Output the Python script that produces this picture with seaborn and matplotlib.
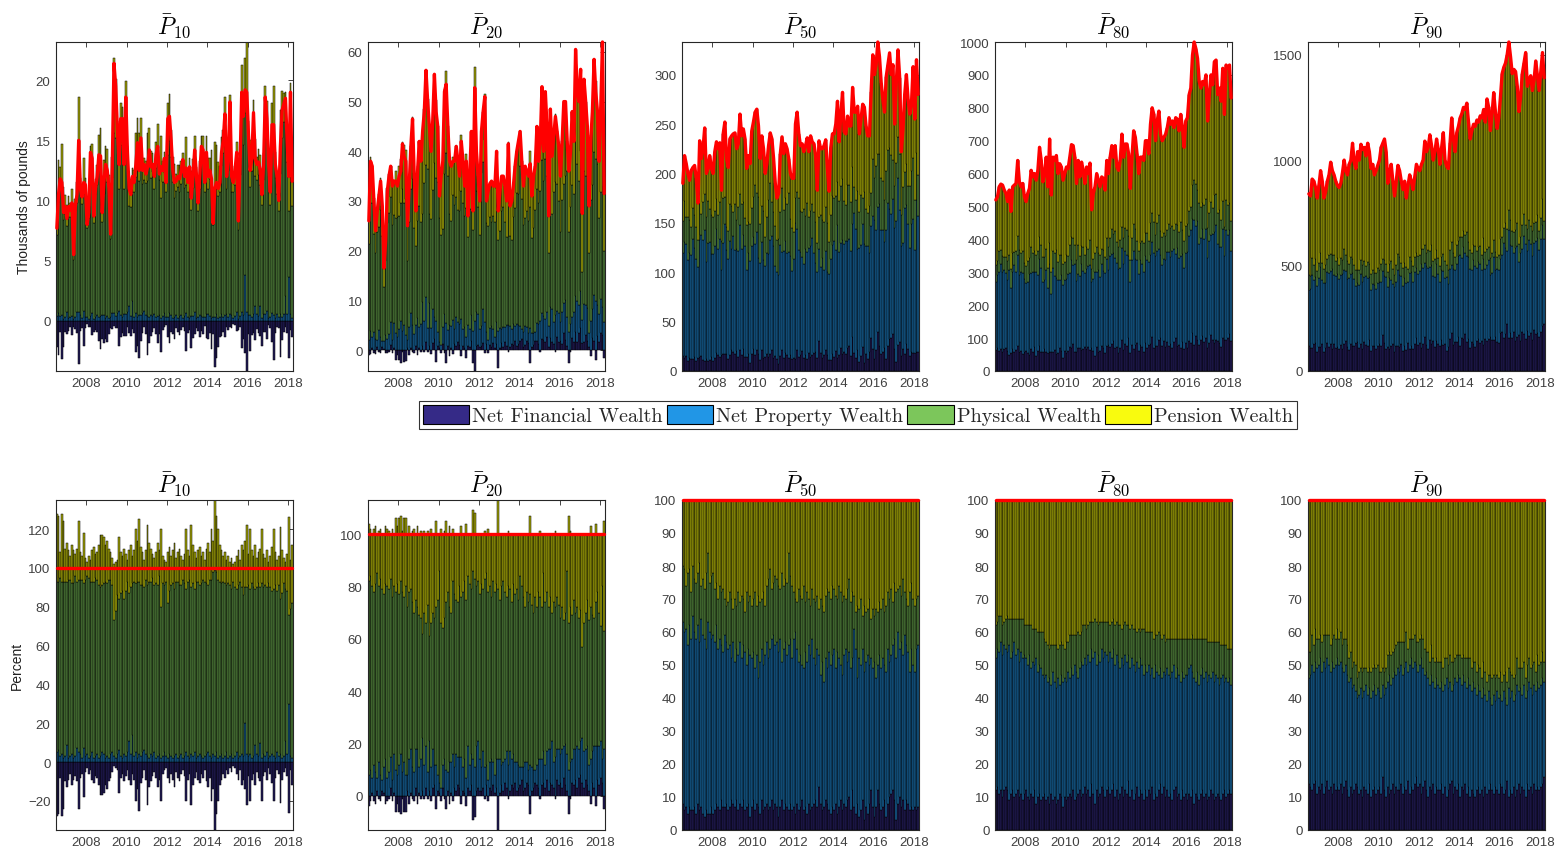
import numpy as np
import matplotlib
matplotlib.use("Agg")
import matplotlib.pyplot as plt
from matplotlib.patches import Patch
from matplotlib.colors import to_rgb
from matplotlib.ticker import MultipleLocator, FixedLocator
import seaborn as sns

# ---------------- data (monthly, Jul 2006 - Mar 2018) ----------------
start_year = 2006.5  # July 2006
components = ["Net Financial Wealth", "Net Property Wealth", "Physical Wealth", "Pension Wealth"]
titles = [r"$\bar{P}_{10}$", r"$\bar{P}_{20}$", r"$\bar{P}_{50}$", r"$\bar{P}_{80}$", r"$\bar{P}_{90}$"]

# total net wealth, thousands of pounds (red line)
tot10 = [7.7, 10.5, 11.8, 11.5, 9.0, 9.5,
         8.5, 9.5, 9.2, 9.8, 5.5, 9.5, 10.5, 15.0, 11.0, 10.3, 11.5, 11.3,
         8.0, 9.0, 14.0, 13.5, 8.7, 11.0, 12.0, 13.8, 13.7, 9.0, 11.5, 13.0,
         12.5, 11.0, 7.2, 13.0, 21.4, 19.5, 16.0, 13.0, 16.8, 16.8, 13.0, 18.6,
         14.0, 11.0, 10.5, 12.0, 11.5, 13.0, 14.8, 12.5, 15.2, 12.5, 13.0, 12.2,
         12.8, 14.2, 12.8, 13.0, 12.0, 13.8, 14.5, 12.2, 12.8, 12.5, 13.5, 11.5,
         16.8, 17.0, 15.0, 12.5, 11.5, 11.6, 12.0, 11.8, 12.5, 13.4, 12.0, 12.7,
         11.5, 12.8, 10.2, 12.0, 14.2, 12.2, 9.8, 12.0, 14.5, 14.2, 11.5, 14.0,
         12.0, 12.5, 11.8, 8.1, 11.0, 11.5, 11.0, 11.5, 14.0, 15.0, 17.2, 12.0,
         13.5, 18.2, 12.0, 11.5, 12.5, 14.0, 8.3, 13.0, 19.0, 17.0, 19.2, 19.0,
         15.5, 12.5, 13.5, 17.3, 13.5, 13.0, 13.2, 12.5, 10.5, 13.0, 18.6, 16.8,
         13.0, 10.7, 16.3, 16.3, 13.0, 12.0, 10.0, 14.5, 17.5, 18.0, 18.5, 15.0,
         12.0, 19.0, 11.6]
tot20 = [26, 38, 37, 30, 24, 28,
         31, 34, 29, 16.5, 22, 32, 35, 37, 33, 34, 34, 33,
         35, 36, 41.5, 39, 38, 25, 33, 41, 46.5, 35, 28, 36,
         42, 38, 44, 48, 56.3, 50, 45, 40, 46, 55.5, 48, 45,
         31, 35, 38, 52, 53.5, 45, 38, 37, 38, 38, 41, 38,
         35, 42, 38, 33, 38, 27, 35, 44, 28, 52.8, 40, 35,
         30, 44, 48, 51, 30, 32, 33.5, 34, 33, 33, 40, 28,
         32, 35, 35, 33, 30, 41.5, 29, 30, 33, 37, 40, 42,
         44, 38, 33, 37, 36, 35, 37.5, 31, 35, 37, 45, 38,
         42, 53, 40, 52, 45, 27, 48.5, 39, 43, 47, 44, 41,
         35, 42, 50, 50, 42, 36, 40, 48, 42, 60.5, 52, 50,
         56.5, 27.5, 54.5, 50, 45, 29, 42, 48, 58.5, 52, 48, 38,
         49, 62, 31.5]
tot50 = [190, 218, 210, 200, 193, 203,
         206, 208, 195, 170, 233, 215, 225, 246, 200, 205, 218, 205,
         200, 222, 232, 225, 231, 183, 240, 252, 215, 206, 235, 238,
         240, 241, 225, 230, 260, 238, 245, 235, 205, 218, 210, 243,
         252, 262, 265, 248, 215, 238, 225, 200, 210, 228, 241, 235,
         215, 190, 175, 180, 220, 237, 220, 230, 225, 215, 200, 195,
         195, 250, 262, 240, 228, 230, 222, 228, 236, 222, 238, 232,
         230, 218, 183, 233, 225, 225, 228, 234, 205, 182, 226, 240,
         240, 250, 273, 232, 260, 282, 242, 240, 258, 248, 248, 287,
         262, 262, 268, 240, 255, 270, 267, 248, 238, 238, 282, 320,
         300, 310, 333, 318, 292, 275, 262, 298, 310, 322, 300, 310,
         250, 292, 325, 297, 222, 245, 280, 300, 275, 260, 270, 308,
         255, 315, 280]
tot80 = [520, 530, 560, 568, 565, 550,
         540, 515, 550, 485, 560, 565, 570, 640, 575, 560, 570, 530,
         515, 540, 555, 610, 590, 600, 580, 610, 680, 640, 575, 600,
         650, 560, 705, 535, 650, 640, 655, 600, 630, 620, 580, 600,
         620, 615, 650, 688, 685, 650, 570, 640, 590, 635, 610, 570,
         620, 600, 632, 490, 540, 560, 600, 580, 560, 590, 585, 550,
         640, 600, 650, 685, 650, 685, 620, 610, 640, 720, 650, 690,
         690, 660, 555, 650, 730, 710, 660, 600, 650, 650, 640, 700,
         700, 660, 750, 800, 780, 700, 760, 790, 720, 700, 710, 720,
         740, 770, 750, 760, 740, 770, 765, 730, 780, 740, 680, 760,
         770, 840, 860, 960, 1000, 980, 950, 880, 860, 880, 870, 900,
         760, 840, 900, 870, 940, 945, 840, 860, 820, 920, 780, 930,
         920, 930, 830]
tot90 = [840, 830, 910, 900, 870, 820,
         880, 950, 900, 820, 850, 900, 930, 990, 950, 930, 900, 880,
         870, 890, 940, 1000, 950, 930, 980, 1000, 1080, 990, 960, 1040,
         1000, 1075, 1050, 1060, 1020, 1080, 1040, 960, 980, 930, 950, 975,
         1000, 1060, 1080, 1100, 1040, 890, 940, 980, 900, 830, 900, 975,
         950, 900, 860, 900, 820, 880, 930, 900, 860, 920, 980, 960,
         950, 980, 1000, 1090, 1040, 1060, 1120, 1070, 1000, 1040, 1100, 1050,
         980, 1060, 1130, 1000, 970, 960, 1080, 1200, 1100, 1040, 1130, 1160,
         1200, 1220, 1250, 1240, 1270, 1180, 1100, 1140, 1170, 1160, 1190, 1180,
         1210, 1200, 1240, 1180, 1290, 1250, 1140, 1220, 1320, 1230, 1150, 1200,
         1300, 1410, 1440, 1460, 1500, 1560, 1490, 1410, 1430, 1420, 1350, 1230,
         1300, 1410, 1460, 1510, 1350, 1380, 1400, 1330, 1380, 1470, 1400, 1330,
         1420, 1510, 1390]

# component shares of total wealth, percent (pension = remainder to 100)
fin10 = [-28, -27, -8, -28, -24, -10,
         -13, -9, -6, -12, -9, -7, -10, -24, -8, -6, -18, -5,
         -3, -6, -4, -9, -11, -7, -8, -12, -17, -17, -16, -12,
         -14, -10, -8, -5, -2, -3, -4, -16, -8, -6, -10, -7,
         -4, -9, -12, -6, -9, -20, -14, -25, -11, -8, -4, -9,
         -22, -13, -10, -7, -5, -8, -13, -9, -20, -6, -4, -3,
         -8, -11, -6, -9, -13, -5, -8, -10, -6, -4, -7, -20,
         -9, -6, -22, -12, -8, -5, -9, -11, -6, -8, -4, -10,
         -13, -8, -20, -14, -35, -27, -20, -12, -9, -6, -8, -4,
         -6, -3, -5, -2, -3, -6, -9, -4, -12, -9, -14, -22,
         -7, -20, -9, -6, -12, -5, -8, -10, -20, -7, -5, -9,
         -3, -6, -11, -20, -8, -4, -6, -21, -9, -5, -3, -7,
         -26, -4, -12]
prop10 = [5, 6, 3, 4, 2, 3,
          9, 2, 3, 4, 2, 3, 7, 5, 4, 2, 7, 3,
          4, 2, 3, 5, 2, 3, 4, 2, 3, 5, 4, 2,
          3, 2, 4, 5, 3, 2, 4, 6, 3, 2, 4, 3,
          5, 11, 4, 14, 3, 5, 2, 4, 3, 5, 6, 4,
          3, 2, 4, 3, 5, 2, 3, 4, 2, 3, 5, 3,
          2, 4, 3, 2, 3, 4, 2, 3, 4, 2, 3, 5,
          3, 2, 4, 3, 5, 2, 3, 4, 3, 2, 3, 4,
          5, 3, 2, 4, 3, 5, 2, 3, 4, 2, 3, 5,
          2, 3, 4, 2, 3, 5, 2, 3, 4, 3, 20, 4,
          3, 4, 2, 3, 9, 4, 3, 10, 2, 4, 3, 5,
          2, 3, 4, 3, 2, 5, 3, 4, 2, 3, 11, 4,
          30, 3, 2]
phys10 = [88, 87, 92, 89, 91, 90,
          84, 92, 91, 88, 90, 93, 86, 89, 90, 92, 85, 91,
          92, 93, 90, 88, 91, 92, 90, 89, 87, 86, 88, 91,
          89, 92, 90, 86, 70, 76, 82, 78, 84, 86, 80, 85,
          88, 76, 86, 78, 90, 87, 91, 89, 88, 86, 84, 90,
          88, 91, 89, 92, 86, 90, 88, 92, 78, 89, 86, 90,
          80, 84, 88, 90, 86, 89, 91, 88, 87, 92, 89, 84,
          90, 92, 86, 89, 84, 91, 90, 87, 89, 92, 90, 88,
          86, 91, 92, 94, 96, 93, 92, 90, 88, 91, 89, 86,
          90, 88, 85, 91, 87, 84, 89, 90, 86, 83, 70, 86,
          88, 85, 90, 87, 80, 86, 89, 80, 90, 86, 88, 85,
          90, 87, 84, 86, 89, 83, 88, 80, 85, 89, 78, 84,
          46, 76, 80]

fin20 = [-4, -2, 1, -2, -3, 2,
         -1, -2, 2, 1, -3, -2, -1, 3, -2, 1, -6, -3,
         -6, -7, -1, -6, -6, 2, -3, 1, -1, -2, 3, -3,
         1, -1, 2, -1, 3, -1, 2, -2, 3, 4, -5, 2,
         1, -2, 3, -1, -5, 2, -3, 1, -2, 3, 2, 4,
         3, -3, 2, 1, -4, 3, 2, 4, -9, -8, 2, 3,
         2, 2, 3, -1, 4, -2, 3, 2, 4, 1, 3, -13,
         1, 4, 2, 5, 3, -1, 2, 4, 3, 5, 2, 3,
         4, 6, 2, 3, 5, 4, -7, 2, 3, 5, 4, 3,
         -1, 4, 5, 3, 6, 2, 5, 4, 3, -1, 6, 4,
         5, 3, 7, 4, 2, -7, -1, 5, 4, 6, 3, 7,
         8, 5, 3, 6, 4, 2, -3, 5, 3, -4, 6, 4,
         7, 5, -5]
prop20 = [8, 10, 6, 12, 9, 5,
          13, 8, 4, 10, 14, 7, 9, 12, 6, 15, 10, 8,
          12, 16, 9, 13, 8, 6, 14, 17, 11, 9, 15, 18,
          10, 14, 20, 12, 16, 9, 19, 11, 15, 8, 12, 6,
          4, 3, 9, 14, 10, 7, 13, 12, 16, 8, 14, 11,
          12, 15, 9, 13, 7, 16, 10, 12, 14, 11, 17, 18,
          12, 9, 14, 11, 8, 6, 10, 12, 9, 7, 11, 14,
          13, 8, 11, 9, 14, 12, 15, 10, 13, 8, 11, 9,
          7, 5, 9, 10, 8, 6, 12, 9, 7, 5, 8, 11,
          14, 10, 12, 9, 11, 16, 13, 17, 10, 15, 12, 14,
          11, 15, 12, 16, 14, 10, 13, 9, 14, 12, 16, 11,
          13, 17, 14, 12, 15, 10, 14, 12, 16, 19, 13, 15,
          14, 9, 18]
phys20 = [74, 74, 73, 66, 72, 78,
          67, 75, 73, 66, 67, 73, 70, 68, 70, 64, 68, 73,
          65, 66, 69, 63, 72, 64, 64, 61, 63, 61, 57, 54,
          58, 54, 40, 58, 47, 64, 40, 55, 52, 56, 60, 67,
          81, 63, 52, 54, 64, 69, 59, 57, 66, 66, 59, 59,
          65, 61, 67, 68, 68, 65, 69, 63, 72, 72, 61, 61,
          63, 70, 62, 72, 73, 72, 67, 62, 69, 70, 67, 65,
          61, 68, 69, 64, 59, 68, 62, 60, 65, 64, 66, 63,
          73, 69, 65, 59, 65, 64, 65, 62, 60, 66, 60, 64,
          62, 58, 68, 62, 61, 54, 58, 49, 61, 57, 58, 55,
          52, 54, 48, 50, 70, 56, 59, 55, 57, 52, 53, 50,
          50, 35, 49, 52, 56, 55, 58, 52, 49, 55, 59, 51,
          44, 66, 45]

fin50 = [8, 6, 7, 5, 7, 6,
         6, 7, 5, 8, 6, 7, 5, 4, 6, 5, 5, 7,
         5, 6, 8, 7, 6, 9, 7, 7, 8, 6, 7, 9,
         8, 7, 9, 6, 8, 7, 9, 6, 7, 8, 4, 7,
         9, 6, 8, 7, 5, 9, 6, 7, 8, 6, 7, 9,
         6, 8, 7, 4, 7, 9, 6, 8, 7, 6, 8, 6,
         7, 5, 8, 6, 7, 9, 6, 7, 5, 8, 6, 7,
         8, 9, 7, 13, 8, 6, 7, 9, 8, 6, 5, 7,
         6, 8, 5, 7, 9, 6, 8, 7, 9, 10, 6, 12,
         7, 5, 8, 4, 6, 9, 3, 7, 5, 8, 12, 7,
         4, 7, 12, 8, 6, 7, 9, 4, 8, 10, 11, 12,
         9, 3, 8, 10, 7, 9, 6, 9, 8, 6, 7, 6,
         7, 6, 7]
prop50 = [55, 54, 54, 51, 55, 52,
          59, 53, 53, 54, 51, 57, 54, 54, 49, 58, 55, 51,
          54, 51, 54, 48, 52, 47, 47, 52, 49, 49, 49, 43,
          49, 44, 46, 47, 49, 45, 47, 48, 43, 47, 49, 45,
          45, 43, 45, 39, 46, 46, 44, 46, 49, 46, 48, 49,
          53, 48, 50, 50, 51, 42, 49, 49, 46, 50, 50, 46,
          51, 55, 47, 45, 46, 41, 43, 47, 46, 48, 47, 51,
          44, 41, 48, 40, 39, 45, 38, 43, 41, 48, 45, 46,
          49, 41, 49, 45, 41, 41, 45, 48, 42, 44, 43, 40,
          54, 50, 38, 48, 44, 46, 45, 44, 48, 42, 40, 42,
          47, 39, 38, 45, 43, 45, 41, 44, 47, 41, 42, 44,
          49, 49, 52, 45, 50, 44, 53, 47, 46, 42, 48, 44,
          41, 49, 49]
phys50 = [17, 19, 13, 22, 17, 14,
          15, 16, 17, 16, 24, 10, 17, 15, 23, 21, 15, 19,
          19, 16, 13, 15, 16, 16, 19, 11, 11, 14, 16, 18,
          10, 19, 13, 19, 12, 19, 14, 12, 22, 14, 18, 16,
          16, 23, 15, 25, 18, 15, 22, 15, 17, 24, 24, 15,
          16, 21, 19, 20, 15, 27, 19, 19, 22, 28, 19, 22,
          14, 10, 14, 22, 18, 20, 25, 15, 21, 14, 15, 15,
          18, 19, 16, 14, 23, 17, 21, 19, 24, 18, 20, 21,
          18, 22, 16, 22, 22, 22, 18, 15, 22, 22, 20, 20,
          10, 11, 22, 15, 20, 10, 20, 15, 14, 20, 12, 18,
          14, 21, 16, 16, 18, 18, 16, 20, 17, 19, 20, 13,
          17, 20, 13, 19, 14, 23, 13, 14, 14, 24, 20, 20,
          20, 15, 15]

fin80 = [12, 13, 11, 12, 10, 12,
         13, 12, 9, 11, 12, 10, 11, 12, 10, 11, 9, 11,
         12, 10, 9, 11, 10, 12, 8, 10, 11, 9, 10, 11,
         9, 10, 8, 11, 9, 10, 8, 9, 11, 10, 7, 10,
         9, 10, 11, 10, 12, 9, 10, 11, 12, 10, 11, 13,
         11, 12, 10, 14, 11, 8, 12, 10, 11, 13, 12, 10,
         12, 13, 11, 12, 14, 10, 12, 9, 11, 13, 10, 12,
         11, 15, 10, 12, 9, 11, 13, 10, 12, 11, 9, 12,
         10, 12, 11, 13, 9, 11, 10, 12, 14, 11, 13, 10,
         12, 10, 11, 9, 12, 13, 10, 11, 9, 12, 10, 11,
         9, 11, 10, 12, 8, 11, 10, 9, 11, 12, 10, 11,
         9, 10, 12, 11, 9, 10, 11, 10, 9, 11, 12, 10,
         11, 12, 11]
prop80 = [40, 42, 43, 45, 43, 44,
          42, 42, 47, 41, 42, 47, 42, 43, 41, 43, 43, 42,
          40, 40, 44, 38, 41, 38, 44, 38, 39, 40, 37, 35,
          38, 35, 38, 33, 39, 35, 35, 37, 33, 37, 38, 36,
          36, 38, 35, 39, 35, 41, 38, 35, 37, 41, 39, 39,
          39, 41, 41, 41, 41, 46, 38, 43, 40, 42, 40, 44,
          41, 38, 43, 40, 41, 40, 41, 42, 38, 39, 40, 41,
          40, 38, 39, 40, 41, 37, 38, 39, 40, 39, 38, 38,
          38, 38, 36, 36, 37, 39, 38, 35, 35, 35, 35, 37,
          37, 37, 35, 39, 38, 33, 39, 36, 36, 36, 36, 36,
          38, 38, 40, 36, 38, 34, 38, 35, 36, 37, 36, 37,
          36, 37, 34, 37, 36, 37, 35, 34, 37, 36, 33, 36,
          34, 34, 33]
phys80 = [10, 8, 11, 8, 9, 7,
          9, 11, 8, 12, 10, 7, 11, 9, 13, 10, 12, 9,
          10, 12, 9, 13, 10, 11, 9, 12, 10, 11, 13, 12,
          10, 11, 9, 12, 8, 11, 13, 9, 12, 10, 11, 9,
          12, 9, 13, 10, 12, 9, 11, 14, 10, 9, 12, 10,
          11, 9, 12, 8, 11, 10, 13, 9, 12, 8, 11, 9,
          10, 12, 8, 11, 9, 12, 10, 11, 13, 9, 12, 10,
          11, 9, 12, 10, 11, 13, 9, 12, 8, 11, 14, 10,
          12, 10, 13, 11, 12, 9, 11, 13, 10, 12, 11, 10,
          9, 11, 12, 10, 8, 12, 9, 11, 13, 10, 12, 11,
          11, 9, 8, 11, 12, 13, 10, 14, 11, 9, 12, 10,
          12, 10, 11, 9, 12, 10, 11, 13, 10, 9, 11, 10,
          10, 9, 11]

fin90 = [14, 13, 12, 14, 15, 11,
         13, 12, 14, 11, 13, 15, 12, 13, 11, 14, 12, 13,
         12, 14, 11, 13, 15, 12, 10, 13, 11, 12, 14, 13,
         11, 12, 10, 13, 12, 11, 14, 10, 12, 13, 11, 12,
         13, 11, 16, 12, 10, 13, 11, 12, 14, 11, 13, 12,
         12, 14, 11, 13, 12, 15, 11, 13, 12, 14, 16, 13,
         14, 11, 13, 15, 12, 10, 13, 12, 14, 11, 13, 12,
         12, 14, 11, 13, 10, 12, 14, 15, 11, 13, 12, 14,
         10, 13, 12, 14, 11, 13, 10, 12, 11, 10, 12, 13,
         11, 12, 10, 13, 11, 12, 14, 12, 11, 13, 12, 11,
         14, 13, 11, 12, 15, 10, 12, 11, 13, 10, 12, 14,
         11, 13, 12, 10, 14, 12, 13, 11, 14, 12, 13, 12,
         13, 14, 16]
prop90 = [32, 34, 38, 34, 36, 38,
          37, 40, 34, 40, 36, 37, 38, 35, 40, 35, 38, 39,
          38, 37, 38, 35, 35, 35, 35, 33, 32, 32, 28, 27,
          30, 31, 30, 29, 32, 30, 29, 30, 30, 31, 30, 31,
          29, 29, 28, 29, 33, 32, 36, 32, 32, 37, 34, 37,
          36, 36, 36, 36, 39, 33, 39, 39, 37, 37, 34, 35,
          36, 41, 36, 32, 36, 36, 31, 35, 31, 32, 33, 32,
          31, 31, 31, 31, 36, 31, 31, 27, 33, 33, 33, 33,
          36, 31, 35, 31, 32, 33, 34, 30, 34, 33, 29, 31,
          31, 28, 33, 28, 28, 30, 26, 26, 30, 26, 30, 29,
          27, 26, 31, 28, 23, 33, 28, 31, 26, 31, 32, 28,
          32, 28, 32, 30, 28, 33, 30, 30, 30, 30, 32, 31,
          31, 32, 29]
phys90 = [8, 7, 9, 8, 10, 9,
          8, 7, 9, 8, 10, 7, 9, 8, 7, 10, 8, 9,
          8, 9, 7, 10, 8, 9, 7, 8, 6, 7, 8, 6,
          7, 6, 8, 7, 5, 7, 6, 8, 7, 6, 8, 7,
          6, 8, 5, 7, 6, 8, 7, 9, 8, 7, 9, 8,
          9, 7, 10, 8, 9, 7, 8, 6, 9, 8, 7, 9,
          8, 7, 9, 8, 6, 8, 7, 9, 7, 8, 6, 7,
          8, 6, 7, 8, 6, 7, 8, 9, 7, 6, 8, 6,
          7, 8, 6, 7, 9, 6, 8, 7, 6, 8, 7, 6,
          7, 6, 8, 7, 6, 5, 7, 8, 6, 7, 5, 6,
          7, 6, 5, 8, 7, 6, 8, 5, 7, 6, 8, 7,
          6, 8, 7, 6, 8, 7, 6, 9, 7, 6, 8, 7,
          7, 8, 6]

panels = [
    (tot10, fin10, prop10, phys10),
    (tot20, fin20, prop20, phys20),
    (tot50, fin50, prop50, phys50),
    (tot80, fin80, prop80, phys80),
    (tot90, fin90, prop90, phys90),
]
for p in panels:
    for arr in p:
        assert len(arr) == 141, len(arr)

# ---------------- style ----------------
sns.set_theme(style="white")
plt.rcParams["font.family"] = ["Liberation Sans", "DejaVu Sans"]
plt.rcParams["mathtext.fontset"] = "cm"

colors = ["#352A87", "#2196E6", "#7CC65B", "#F9FB0E"]
# dense bars with black outlines render darker than the legend swatches
bar_colors = [tuple(0.66 * np.array(to_rgb(c))) for c in colors]
edge_lw = 0.35
axis_col = "#262626"

W, H = 1559, 854
fig = plt.figure(figsize=(W / 100, H / 100), dpi=100)

lefts = [56, 368, 682, 995, 1308]
ax_w = 237
rows = [(43, 372), (501, 831)]

top_ticks = [5, 10, 50, 100, 500]
bot_ticks = [20, 20, 10, 10, 10]

n = len(tot10)
xvals = start_year + (np.arange(n) + 0.5) / 12.0


def draw_stack(ax, series, total):
    pos = np.zeros(n)
    neg = np.zeros(n)
    for s, c in zip(series, bar_colors):
        s = np.asarray(s, float)
        bottom = np.where(s >= 0, pos, neg)
        sns.barplot(x=xvals, y=s, bottom=bottom, native_scale=True, color=c,
                    saturation=1, edgecolor="black", linewidth=edge_lw,
                    errorbar=None, ax=ax, width=1.0)
        pos = pos + np.where(s >= 0, s, 0)
        neg = neg + np.where(s < 0, s, 0)
    sns.lineplot(x=xvals, y=total, color="#FF0000", linewidth=2.4, ax=ax,
                 clip_on=False, zorder=5)
    lo = min(neg.min(), np.min(total))
    hi = max(pos.max(), np.max(total))
    return lo, hi


for j, (tot, fin, prop, phys) in enumerate(panels):
    tot = np.asarray(tot, float)
    fin = np.asarray(fin, float)
    prop = np.asarray(prop, float)
    phys = np.asarray(phys, float)
    pen = 100.0 - fin - prop - phys
    shares = [fin, prop, phys, pen]
    for r, (y0, y1) in enumerate(rows):
        ax = fig.add_axes([lefts[j] / W, 1 - y1 / H, ax_w / W, (y1 - y0) / H])
        if r == 0:
            series = [s * tot / 100.0 for s in shares]
            total = tot
        else:
            series = shares
            total = fin + prop + phys + pen
        lo, hi = draw_stack(ax, series, total)
        ax.set_ylim(lo, hi)
        ax.set_xlim(start_year, start_year + n / 12.0)
        ax.xaxis.set_major_locator(FixedLocator([2008, 2010, 2012, 2014, 2016, 2018]))
        ax.set_xticklabels(["2008", "2010", "2012", "2014", "2016", "2018"])
        ax.yaxis.set_major_locator(MultipleLocator(top_ticks[j] if r == 0 else bot_ticks[j]))
        ax.set_xlabel("")
        ax.set_ylabel("")
        ax.tick_params(direction="in", top=True, right=True, length=3.5, width=0.6,
                       colors=axis_col, labelsize=9.5, pad=4)
        for tl in ax.get_xticklabels() + ax.get_yticklabels():
            tl.set_color("#404040")
        for sp in ax.spines.values():
            sp.set_color(axis_col)
            sp.set_linewidth(0.8)
        ax.set_title(titles[j], fontsize=17, pad=6, color="black")
        if j == 0:
            ax.set_ylabel("Thousands of pounds" if r == 0 else "Percent",
                          fontsize=10, color="#202020", labelpad=3)

handles = [Patch(facecolor=c, edgecolor="black", linewidth=0.8) for c in colors]
leg = fig.legend(handles, components, loc="center", bbox_to_anchor=(858 / W, 1 - 416 / H),
                 ncol=4, frameon=True, fancybox=False, edgecolor="black",
                 prop={"family": "cmr10", "size": 14.5}, handlelength=2.3, handleheight=1.1,
                 handletextpad=0.15, columnspacing=0.2, borderpad=0.2, borderaxespad=0)
leg.get_frame().set_linewidth(0.8)

fig.savefig("out.png", dpi=100)
